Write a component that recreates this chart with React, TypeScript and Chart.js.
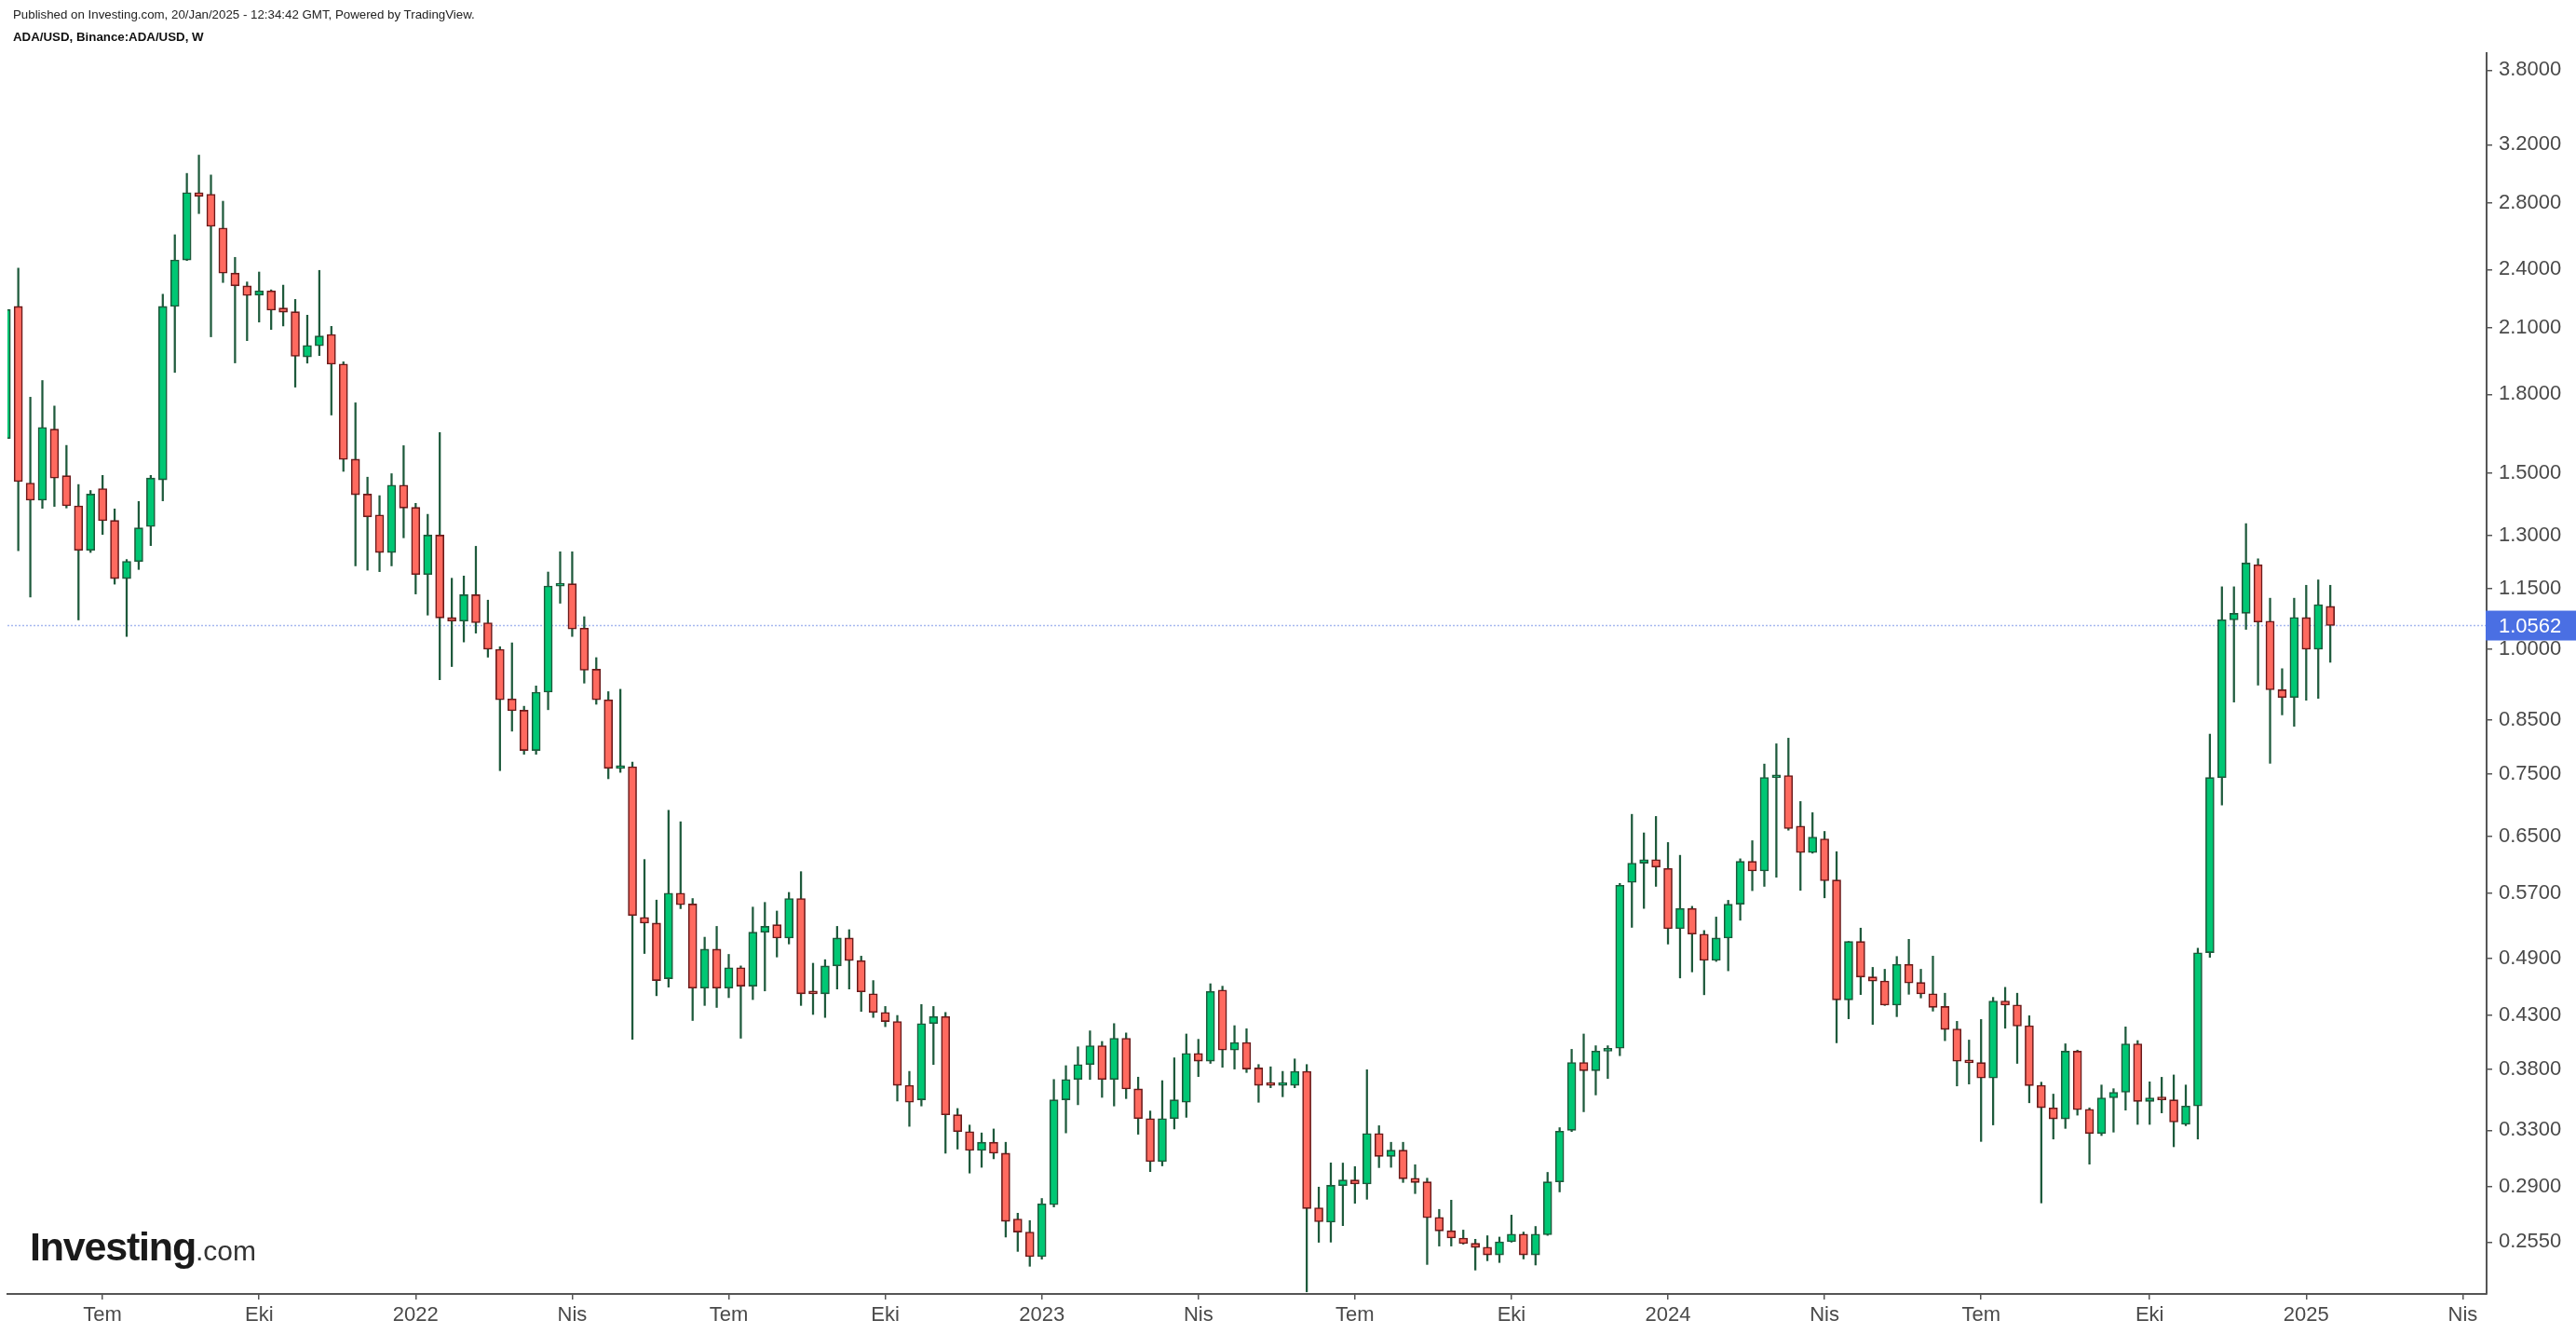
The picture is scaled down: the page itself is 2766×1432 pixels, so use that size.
import React, { useEffect, useRef } from "react";
import { Chart, registerables } from "chart.js";

Chart.register(...registerables);

// Weekly candles (Binance ADA/USD), first week starts Monday 2021-05-10
const firstWeek = "2021-05-10";

const opens = [
  1.625, 2.204, 1.467, 1.410, 1.661, 1.492, 1.392, 1.256, 1.448, 1.346,
  1.177, 1.224, 1.327, 1.478, 2.204, 2.453, 2.865, 2.854, 2.641, 2.380,
  2.311, 2.262, 2.284, 2.196, 2.177, 1.962, 2.013, 2.066, 1.930, 1.550,
  1.430, 1.363, 1.250, 1.460, 1.387, 1.188, 1.301, 1.076, 1.067, 1.134,
  1.063, 1.000, 0.892, 0.869, 0.792, 0.906, 1.157, 1.163, 1.050, 0.955,
  0.890, 0.760, 0.763, 0.539, 0.532, 0.468, 0.570, 0.556, 0.458, 0.501,
  0.458, 0.480, 0.460, 0.521, 0.530, 0.514, 0.563, 0.455, 0.452, 0.482,
  0.514, 0.488, 0.452, 0.433, 0.424, 0.366, 0.354, 0.422, 0.429, 0.342,
  0.329, 0.315, 0.321, 0.313, 0.269, 0.261, 0.2466, 0.278, 0.354, 0.371,
  0.384, 0.401, 0.371, 0.408, 0.363, 0.339, 0.307, 0.339, 0.352, 0.394,
  0.387, 0.456, 0.397, 0.404, 0.381, 0.368, 0.366, 0.366, 0.378, 0.276,
  0.267, 0.2905, 0.2943, 0.2916, 0.3276, 0.3107, 0.3152, 0.2955, 0.293, 0.270,
  0.2618, 0.2574, 0.2543, 0.2521, 0.2476, 0.2552, 0.2598, 0.2476, 0.2594, 0.293,
  0.330, 0.3858, 0.3786, 0.396, 0.3987, 0.5843, 0.6108, 0.6158, 0.6033, 0.5251,
  0.5503, 0.5187, 0.4881, 0.514, 0.5557, 0.6133, 0.5999, 0.744, 0.7474, 0.6653,
  0.6258, 0.646, 0.5875, 0.4457, 0.5099, 0.470, 0.4656, 0.4403, 0.4838, 0.464,
  0.452, 0.439, 0.4168, 0.3872, 0.3857, 0.3722, 0.4445, 0.4406, 0.420, 0.3661,
  0.3475, 0.3388, 0.396, 0.3464, 0.3276, 0.3556, 0.3602, 0.4028, 0.3527, 0.3556,
  0.354, 0.3345, 0.349, 0.497, 0.744, 1.070, 1.0865, 1.215, 1.067, 0.911,
  0.8948, 1.076, 1.000, 1.104,
];

const highs = [
  2.46, 2.407, 1.788, 1.858, 1.752, 1.600, 1.462, 1.442, 1.493, 1.382,
  1.230, 1.406, 1.493, 2.267, 2.600, 2.995, 3.124, 2.984, 2.809, 2.468,
  2.332, 2.386, 2.290, 2.315, 2.240, 2.160, 2.395, 2.105, 1.940, 1.765,
  1.487, 1.425, 1.499, 1.599, 1.400, 1.365, 1.648, 1.178, 1.184, 1.268,
  1.120, 1.006, 1.015, 0.877, 0.919, 1.195, 1.252, 1.252, 1.078, 0.981,
  0.907, 0.912, 0.771, 0.616, 0.561, 0.690, 0.672, 0.563, 0.515, 0.528,
  0.495, 0.482, 0.552, 0.558, 0.547, 0.571, 0.599, 0.485, 0.489, 0.528,
  0.524, 0.493, 0.466, 0.439, 0.430, 0.378, 0.441, 0.439, 0.433, 0.347,
  0.334, 0.328, 0.331, 0.321, 0.2726, 0.268, 0.282, 0.371, 0.383, 0.400,
  0.415, 0.405, 0.422, 0.413, 0.373, 0.345, 0.370, 0.390, 0.412, 0.407,
  0.4626, 0.460, 0.420, 0.417, 0.384, 0.382, 0.378, 0.389, 0.384, 0.2895,
  0.3061, 0.306, 0.3035, 0.3794, 0.3335, 0.321, 0.321, 0.3048, 0.2955, 0.275,
  0.2809, 0.2622, 0.2567, 0.2588, 0.258, 0.2714, 0.261, 0.2644, 0.2995, 0.332,
  0.3977, 0.412, 0.401, 0.401, 0.583, 0.6836, 0.655, 0.6803, 0.6406, 0.622,
  0.553, 0.523, 0.5395, 0.5607, 0.617, 0.6433, 0.7676, 0.8043, 0.8148, 0.7041,
  0.6862, 0.6572, 0.6272, 0.510, 0.5259, 0.4804, 0.4783, 0.4926, 0.5125, 0.4783,
  0.493, 0.4526, 0.4242, 0.4063, 0.426, 0.4483, 0.4588, 0.4526, 0.4297, 0.3687,
  0.3587, 0.4028, 0.397, 0.3475, 0.3663, 0.3632, 0.4188, 0.4058, 0.369, 0.3729,
  0.3749, 0.3663, 0.5021, 0.8224, 1.155, 1.155, 1.336, 1.232, 1.125, 0.9563,
  1.125, 1.159, 1.1735, 1.159,
];

const lows = [
  1.55, 1.255, 1.128, 1.384, 1.390, 1.385, 1.070, 1.250, 1.303, 1.162,
  1.030, 1.202, 1.270, 1.408, 1.893, 2.450, 2.730, 2.055, 2.329, 1.935,
  2.037, 2.126, 2.090, 2.107, 1.830, 1.934, 1.968, 1.716, 1.507, 1.212,
  1.200, 1.196, 1.212, 1.293, 1.136, 1.082, 0.932, 0.961, 1.017, 1.038,
  0.982, 0.756, 0.828, 0.785, 0.785, 0.870, 1.112, 1.030, 0.925, 0.881,
  0.742, 0.753, 0.407, 0.496, 0.450, 0.459, 0.550, 0.425, 0.440, 0.438,
  0.448, 0.408, 0.446, 0.455, 0.492, 0.507, 0.440, 0.431, 0.428, 0.457,
  0.457, 0.434, 0.428, 0.419, 0.353, 0.333, 0.349, 0.384, 0.313, 0.316,
  0.299, 0.303, 0.309, 0.258, 0.2496, 0.2412, 0.2452, 0.2765, 0.328, 0.350,
  0.371, 0.356, 0.349, 0.355, 0.327, 0.300, 0.304, 0.331, 0.340, 0.3735,
  0.385, 0.3816, 0.380, 0.377, 0.352, 0.364, 0.3565, 0.364, 0.2274, 0.2549,
  0.255, 0.2649, 0.2789, 0.2815, 0.3028, 0.303, 0.2926, 0.2852, 0.2422, 0.2527,
  0.2527, 0.2538, 0.2391, 0.2443, 0.2433, 0.255, 0.2453, 0.2419, 0.259, 0.2863,
  0.329, 0.3444, 0.358, 0.3718, 0.3919, 0.5268, 0.5503, 0.579, 0.5069, 0.4688,
  0.4754, 0.451, 0.487, 0.4766, 0.5355, 0.5733, 0.579, 0.5913, 0.659, 0.5737,
  0.625, 0.5639, 0.4037, 0.4267, 0.4512, 0.4212, 0.440, 0.4288, 0.4515, 0.4477,
  0.4343, 0.4057, 0.3655, 0.3671, 0.3216, 0.3341, 0.4175, 0.385, 0.3516, 0.2791,
  0.3234, 0.3314, 0.3417, 0.3052, 0.326, 0.3286, 0.3457, 0.3345, 0.3345, 0.3435,
  0.3177, 0.3335, 0.3234, 0.4916, 0.6984, 0.8855, 1.047, 0.9207, 0.7689, 0.8597,
  0.8374, 0.8892, 0.893, 0.9705,
];

const closes = [
  2.188, 1.472, 1.410, 1.668, 1.484, 1.392, 1.256, 1.430, 1.345, 1.177,
  1.225, 1.323, 1.484, 2.204, 2.453, 2.865, 2.841, 2.651, 2.380, 2.311,
  2.260, 2.284, 2.185, 2.175, 1.965, 2.015, 2.059, 1.929, 1.549, 1.428,
  1.357, 1.250, 1.460, 1.385, 1.188, 1.301, 1.075, 1.067, 1.134, 1.063,
  1.000, 0.890, 0.868, 0.792, 0.906, 1.157, 1.162, 1.048, 0.953, 0.890,
  0.760, 0.762, 0.5415, 0.532, 0.466, 0.570, 0.555, 0.458, 0.501, 0.458,
  0.480, 0.460, 0.521, 0.528, 0.514, 0.563, 0.452, 0.452, 0.482, 0.514,
  0.488, 0.454, 0.433, 0.424, 0.366, 0.352, 0.422, 0.429, 0.342, 0.329,
  0.315, 0.321, 0.313, 0.2675, 0.261, 0.2466, 0.2785, 0.354, 0.371, 0.384,
  0.401, 0.371, 0.408, 0.363, 0.339, 0.307, 0.339, 0.354, 0.394, 0.387,
  0.4544, 0.397, 0.404, 0.380, 0.366, 0.366, 0.367, 0.378, 0.2755, 0.2673,
  0.2907, 0.2943, 0.2916, 0.3276, 0.3107, 0.3152, 0.2951, 0.2926, 0.2697, 0.2617,
  0.2574, 0.2541, 0.2519, 0.2476, 0.2552, 0.2598, 0.2476, 0.2598, 0.293, 0.3293,
  0.3858, 0.3786, 0.3961, 0.3987, 0.5805, 0.6108, 0.6158, 0.6053, 0.5251, 0.5503,
  0.5187, 0.4881, 0.514, 0.5557, 0.6133, 0.5999, 0.7442, 0.7474, 0.6615, 0.6258,
  0.6488, 0.5866, 0.4457, 0.5099, 0.4698, 0.4654, 0.4403, 0.4838, 0.4634, 0.4519,
  0.4381, 0.4163, 0.3869, 0.3855, 0.3722, 0.4445, 0.4403, 0.4196, 0.3658, 0.3476,
  0.3388, 0.396, 0.346, 0.3276, 0.3556, 0.3602, 0.4028, 0.3527, 0.3556, 0.354,
  0.3363, 0.349, 0.4968, 0.7441, 1.0706, 1.0865, 1.220, 1.065, 0.911, 0.8948,
  1.0763, 1.000, 1.1085, 1.0562,
];

const yTickValues = [
  0.255, 0.29, 0.33, 0.38, 0.43, 0.49, 0.57, 0.65, 0.75, 0.85,
  1.0, 1.15, 1.3, 1.5, 1.8, 2.1, 2.4, 2.8, 3.2, 3.8,
];

// x tick labels (Turkish months) and the week index (since firstWeek) they sit on
const xTickLabels = ["Tem", "Eki", "2022", "Nis", "Tem", "Eki", "2023", "Nis", "Tem", "Eki", "2024", "Nis", "Tem", "Eki", "2025", "Nis"];
const xTickWeeks = [8, 21, 34, 47, 60, 73, 86, 99, 112, 125, 138, 151, 164, 178, 191, 204];

const lastPrice = 1.0562;
const titleLine1 = "Published on Investing.com, 20/Jan/2025 - 12:34:42 GMT, Powered by TradingView.";
const titleLine2 = "ADA/USD, Binance:ADA/USD, W";

const UP_FILL = "#00c774";
const UP_EDGE = "#1d5a3b";
const DOWN_FILL = "#ff6a5f";
const DOWN_EDGE = "#6b1a1a";
const WICK = "#1e5a3c";
const AXIS = "#555555";
const TEXT = "#4a4a4a";
const FONT = '"Liberation Sans", Arial, Helvetica, sans-serif';

const W = 2766;
const H = 1432;

export default function App() {
  const canvasRef = useRef<HTMLCanvasElement | null>(null);

  useEffect(() => {
    document.body.style.margin = "0";
    document.body.style.overflow = "hidden";
    const canvas = canvasRef.current;
    if (!canvas) return;

    const idx = opens.map((_, i) => i);
    const isUp = idx.map((i) => closes[i] >= opens[i]);
    const wickData = idx.map((i) => ({ x: i, y: [lows[i], highs[i]] }));
    const bodyData = idx.map((i) => ({ x: i, y: [opens[i], closes[i]] }));

    const pricePlugin = {
      id: "priceLine",
      beforeDatasetsDraw(chart: any) {
        const { ctx, chartArea, scales } = chart;
        const py = scales.y.getPixelForValue(lastPrice);
        ctx.save();
        ctx.strokeStyle = "rgba(95,125,225,0.55)";
        ctx.lineWidth = 1.5;
        ctx.setLineDash([2, 2]);
        ctx.beginPath();
        ctx.moveTo(chartArea.left, py);
        ctx.lineTo(chartArea.right, py);
        ctx.stroke();
        ctx.restore();
      },
      afterDraw(chart: any) {
        const { ctx, chartArea, scales } = chart;
        const py = scales.y.getPixelForValue(lastPrice);
        ctx.save();
        ctx.fillStyle = "#4a6fe3";
        ctx.fillRect(chartArea.right - 1, py - 16, W - chartArea.right + 1, 32);
        ctx.fillStyle = "#ffffff";
        ctx.font = `22px ${FONT}`;
        ctx.textAlign = "left";
        ctx.textBaseline = "middle";
        ctx.fillText(lastPrice.toFixed(4), chartArea.right + 13, py + 1);
        ctx.restore();
      },
    };

    const chart = new Chart(canvas, {
      type: "bar",
      data: {
        datasets: [
          {
            label: "wick",
            data: wickData as any,
            backgroundColor: WICK,
            borderWidth: 0,
            barThickness: 1.6,
            grouped: false,
            order: 2,
          } as any,
          {
            label: "body",
            data: bodyData as any,
            backgroundColor: idx.map((i) => (isUp[i] ? UP_FILL : DOWN_FILL)),
            borderColor: idx.map((i) => (isUp[i] ? UP_EDGE : DOWN_EDGE)),
            borderWidth: 1.6,
            borderSkipped: false,
            barThickness: 9,
            minBarLength: 3,
            grouped: false,
            order: 1,
          } as any,
        ],
      },
      options: {
        responsive: false,
        maintainAspectRatio: false,
        animation: false,
        events: [],
        layout: { padding: { left: 8, top: 57, right: 0, bottom: 0 } },
        plugins: {
          legend: { display: false },
          tooltip: { enabled: false },
        },
        scales: {
          x: {
            type: "linear",
            min: 0.1,
            max: 205.98,
            offset: false,
            afterBuildTicks: (s: any) => {
              s.ticks = xTickWeeks.map((v) => ({ value: v }));
            },
            afterFit: (s: any) => {
              s.height = 43;
            },
            grid: {
              display: true,
              drawOnChartArea: false,
              drawTicks: true,
              tickLength: 6,
              tickColor: AXIS,
              lineWidth: 1.5,
              offset: false,
            },
            border: { display: true, color: AXIS, width: 2 },
            ticks: {
              autoSkip: false,
              maxRotation: 0,
              minRotation: 0,
              padding: 4,
              color: TEXT,
              font: { family: FONT, size: 22 },
              callback: (_v: any, i: number) => xTickLabels[i] ?? "",
            },
          },
          y: {
            type: "logarithmic",
            position: "right",
            min: 0.2263,
            max: 3.952,
            afterBuildTicks: (s: any) => {
              s.ticks = yTickValues.map((v) => ({ value: v }));
            },
            afterFit: (s: any) => {
              s.width = 96;
            },
            grid: {
              display: true,
              drawOnChartArea: false,
              drawTicks: true,
              tickLength: 6,
              tickColor: AXIS,
              lineWidth: 1.5,
            },
            border: { display: true, color: AXIS, width: 2 },
            ticks: {
              autoSkip: false,
              padding: 7,
              color: TEXT,
              font: { family: FONT, size: 22 },
              callback: (v: any) => Number(v).toFixed(4),
            },
          },
        },
      } as any,
      plugins: [pricePlugin],
    });

    return () => chart.destroy();
  }, []);

  return (
    <div style={{ position: "absolute", left: 0, top: 0, width: W, height: H, background: "#ffffff", overflow: "hidden" }}>
      <canvas ref={canvasRef} width={W} height={H} style={{ position: "absolute", left: 0, top: 0, width: W, height: H }} />
      <div
        style={{
          position: "absolute",
          left: 14,
          top: 8,
          fontFamily: FONT,
          fontSize: 13.3,
          lineHeight: "16px",
          color: "#222",
          whiteSpace: "nowrap",
        }}
      >
        {titleLine1}
      </div>
      <div
        style={{
          position: "absolute",
          left: 14,
          top: 32,
          fontFamily: FONT,
          fontSize: 13.3,
          fontWeight: 700,
          lineHeight: "16px",
          color: "#111",
          whiteSpace: "nowrap",
        }}
        data-first-week={firstWeek}
      >
        {titleLine2}
      </div>
      <div
        style={{
          position: "absolute",
          left: 32,
          top: 1317,
          fontFamily: FONT,
          lineHeight: "43px",
          whiteSpace: "nowrap",
          color: "#1a1a1a",
        }}
      >
        <span style={{ fontSize: 43, fontWeight: 700, letterSpacing: -1.2 }}>Investing</span>
        <span style={{ fontSize: 30, fontWeight: 400, color: "#333" }}>.com</span>
      </div>
    </div>
  );
}
